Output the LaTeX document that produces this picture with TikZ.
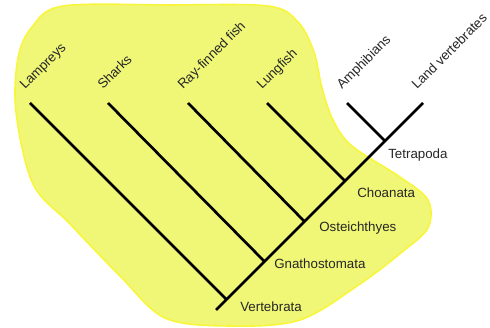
\documentclass[tikz,border=0pt]{standalone}
\usepackage{fontspec}
\setmainfont{Liberation Sans}
\definecolor{blobfill}{RGB}{240,247,118}
\definecolor{blobline}{RGB}{248,246,60}
\tikzset{
  clade edge/.style={black,line width=2pt},
  taxon label/.style={rotate=45,anchor=base west,inner sep=0pt,text=black!85},
  clade label/.style={anchor=west,inner sep=0pt,text=black!85}
}

\begin{document}
\begin{tikzpicture}[x=0.75pt,y=-0.75pt]
  \useasboundingbox (0,0) rectangle (490,328);
  % the yellow group
  \draw[blobline,fill=blobfill,line width=1.2pt] plot[smooth cycle,tension=0.55] coordinates {
    (63,6) (170,5) (268,6) (298,22) (314,52) (322,88) (333,120) (352,146)
    (400,177) (428,200) (428,228) (402,252) (360,284) (300,320) (230,326)
    (165,318) (120,276) (70,224) (33,184) (16,112) (18,58) (32,27)};
  % tips and branch points
  \coordinate (root) at (216,310);
  \coordinate (tlam) at (30,103);
  \coordinate (tsha) at (108,103);
  \coordinate (tray) at (188,103);
  \coordinate (tlun) at (267,103);
  \coordinate (tamp) at (347,103);
  \coordinate (tlan) at (423,103);
  \coordinate (vert) at (226.5,299.5);
  \coordinate (gnat) at (264.5,261.5);
  \coordinate (oste) at (304.5,221.5);
  \coordinate (choa) at (345,181);
  \coordinate (tetr) at (385,141);
  \draw[clade edge] (root)--(tlan)
    (tlam)--(vert) (tsha)--(gnat) (tray)--(oste)
    (tlun)--(choa) (tamp)--(tetr);
  % taxa
  \node[taxon label] (lam) at (25,90) {Lampreys};
  \node[taxon label] (sha) at (103,90) {Sharks};
  \node[taxon label] (ray) at (183,90) {Ray-finned fish};
  \node[taxon label] (lun) at (262,90) {Lungfish};
  \node[taxon label] (amp) at (342,90) {Amphibians};
  \node[taxon label] (lan) at (417,90) {Land vertebrates};
  % clades
  \node[clade label] (ltet) at (388,155) {Tetrapoda};
  \node[clade label] (lcho) at (357,193) {Choanata};
  \node[clade label] (lost) at (319,228) {Osteichthyes};
  \node[clade label] (lgna) at (274,264) {Gnathostomata};
  \node[clade label] (lver) at (240,307) {Vertebrata};
\end{tikzpicture}
\end{document}
